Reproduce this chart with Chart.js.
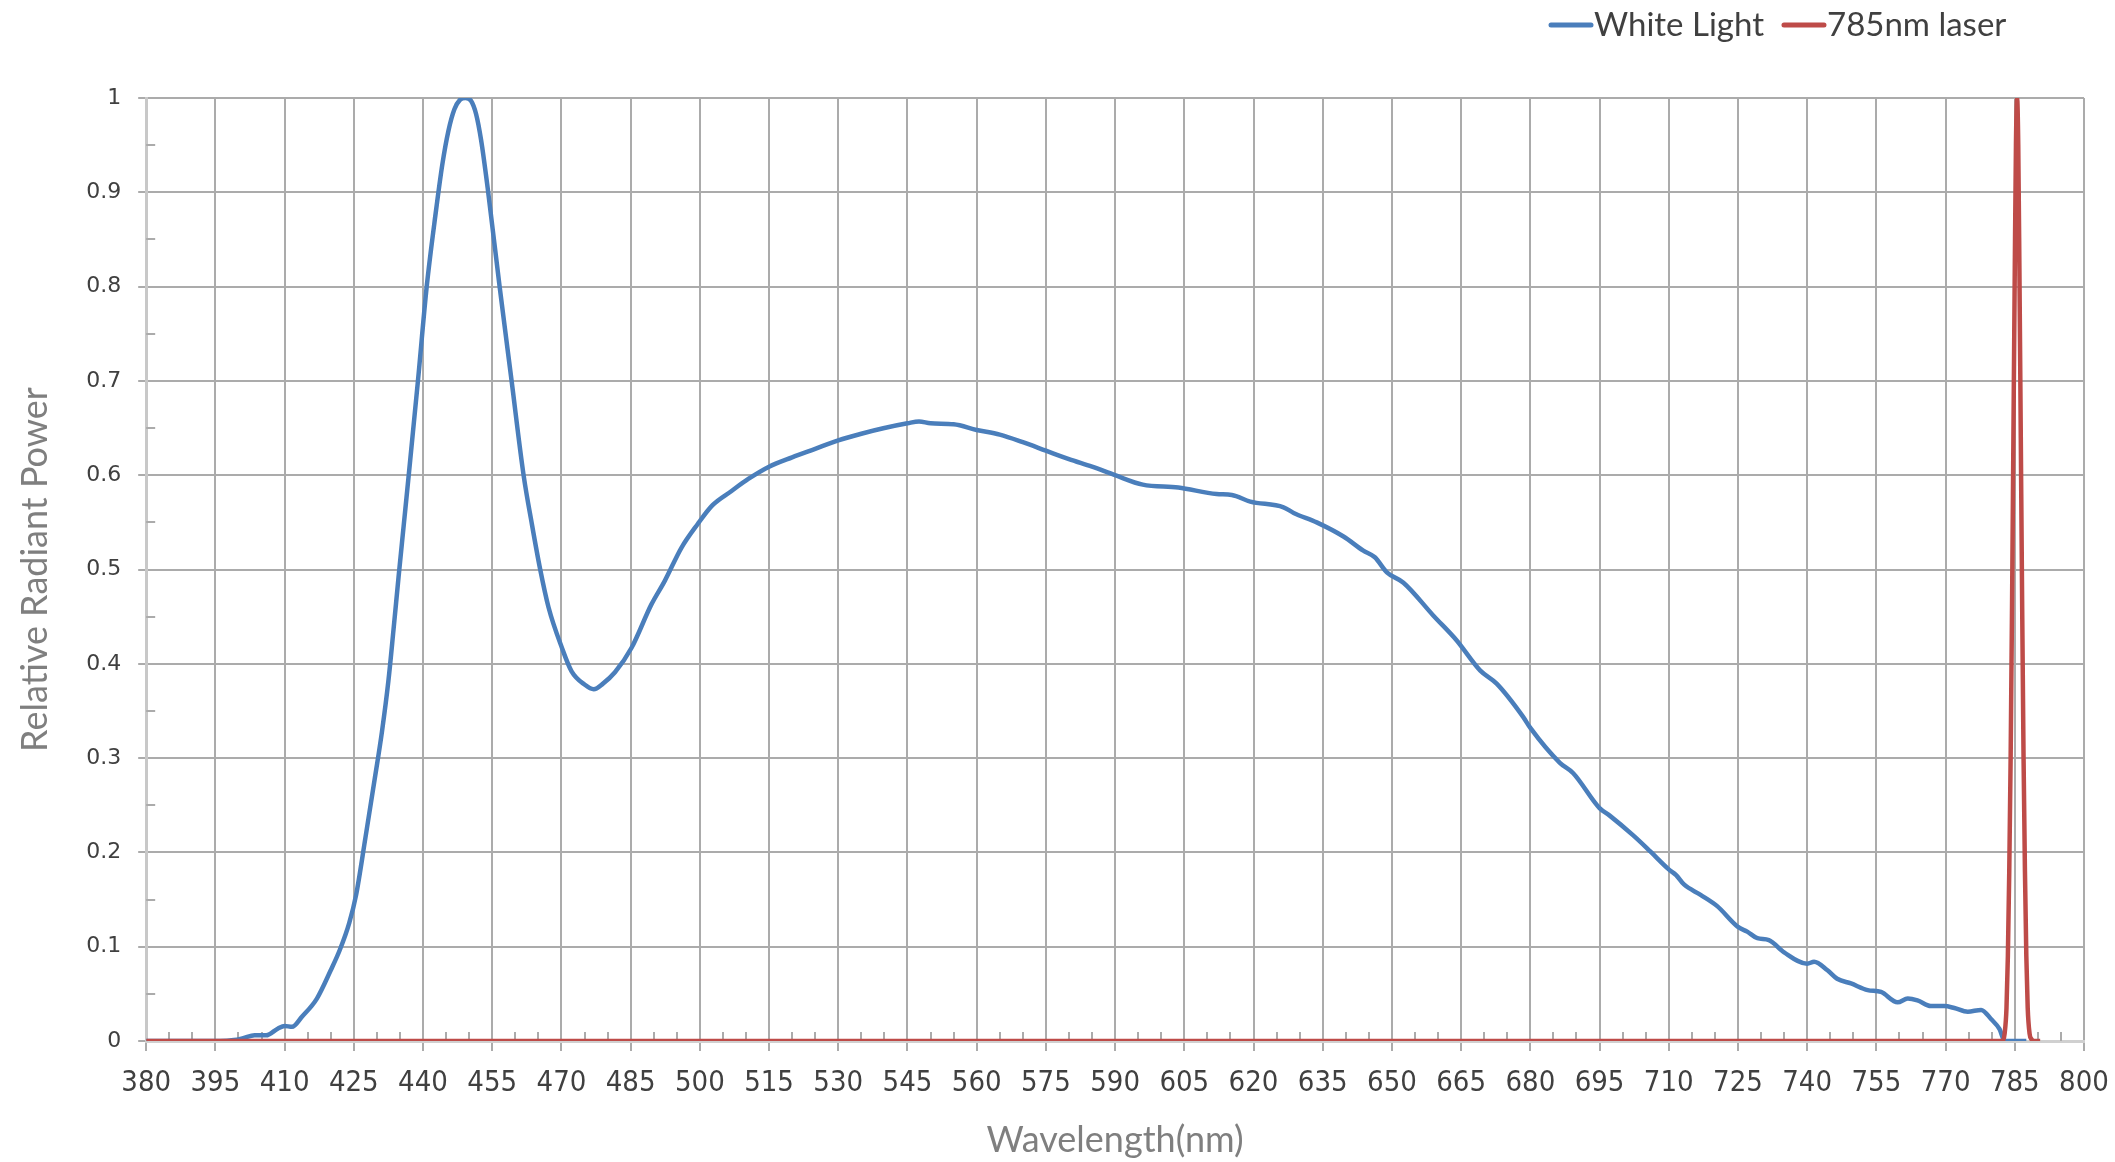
<!DOCTYPE html>
<html>
<head>
<meta charset="utf-8">
<title>White Light vs 785nm laser</title>
<script src="https://cdn.jsdelivr.net/npm/chart.js@4.4.0/dist/chart.umd.min.js"></script>
<style>
  html, body { margin: 0; padding: 0; background: #fff; }
  #wrap { width: 2115px; height: 1162px; }
</style>
</head>
<body>
<div id="wrap"><canvas id="chart" width="2115" height="1162"></canvas></div>
<script>
// wavelength (nm) / relative power
const whiteWl = [380, 396, 399, 401, 403.5, 406, 408.5, 410, 411.6, 413.8, 417, 420, 422, 424, 425.5,
  427.5, 429.6, 431.1, 432.5, 433.6, 434.7, 435.8, 436.9, 438.9, 440.8, 442.8, 444.2, 445.5, 446.8, 448,
  449.2, 450.4, 451.5, 452.6, 454, 456.6, 459.2, 461.8, 463.6, 465.4, 467.2, 470.1, 472.2, 475, 477,
  479, 481.6, 485.2, 489.5, 492.4, 496, 499.5, 502.7, 506.8, 510.5, 515, 520, 525, 530, 535, 540, 545, 547.5,
  550, 555, 560, 565, 570, 575, 580, 585, 590, 596, 603.7, 612, 615.3, 619.3, 626.5, 628.7, 633.7, 639.5,
  643.8, 646.3, 648.9, 652.5, 659, 664, 669.1, 672.7, 678.4, 680, 686.4, 689.3, 695, 697.2, 702.3, 706, 710,
  711.6, 713.3, 716.9, 720.5, 725, 727, 729.2, 731.7, 735, 740, 741.5, 744.4, 746.5, 749.5, 753.1, 756,
  759.6, 761.8, 763.9, 766.8, 769.7, 771.9, 774.8, 777.7, 779.9, 781.7, 782.8, 787.5];
const whitePower = [0, 0, 0.001, 0.003, 0.006, 0.006, 0.013, 0.016, 0.015, 0.026, 0.045, 0.075, 0.097, 0.125, 0.155,
  0.215, 0.28, 0.328, 0.382, 0.436, 0.492, 0.546, 0.60, 0.70, 0.80, 0.88, 0.93, 0.965, 0.988, 0.998,
  1.0, 0.997, 0.983, 0.955, 0.905, 0.80, 0.70, 0.60, 0.548, 0.50, 0.46, 0.417, 0.392, 0.378, 0.373,
  0.379, 0.391, 0.417, 0.463, 0.488, 0.523, 0.548, 0.568, 0.583, 0.596, 0.609, 0.619, 0.628, 0.637, 0.644,
  0.650, 0.655, 0.657, 0.655, 0.654, 0.648, 0.643, 0.635, 0.626, 0.617, 0.609, 0.600, 0.590, 0.587, 0.580,
  0.579, 0.572, 0.566, 0.560, 0.550, 0.535, 0.520, 0.513, 0.497, 0.486, 0.451, 0.425, 0.393, 0.379, 0.344,
  0.332, 0.295, 0.284, 0.247, 0.239, 0.218, 0.201, 0.182, 0.176, 0.166, 0.155, 0.143, 0.121, 0.116, 0.109,
  0.107, 0.094, 0.082, 0.084, 0.075, 0.066, 0.061, 0.054, 0.052, 0.041, 0.045, 0.043, 0.037, 0.037, 0.035,
  0.031, 0.033, 0.023, 0.0125, 0, 0];

const laserWl = [380, 782.4, 782.8, 783.2, 783.5, 783.8, 784.1, 784.4, 784.7, 785, 785.25, 785.5, 785.75,
  786, 786.3, 786.6, 786.9, 787.2, 787.5, 787.8, 788.2, 788.6, 789.2, 790.5];
const laserPower = [0, 0, 0.008, 0.035, 0.09, 0.18, 0.3, 0.46, 0.64, 0.82, 0.95, 1.0, 0.95, 0.82,
  0.64, 0.46, 0.3, 0.18, 0.09, 0.035, 0.008, 0.002, 0, 0];

const seriesNames = ['White Light', '785nm laser'];
const seriesColors = ['#4a7ebb', '#be4b48'];

const X_MIN = 380, X_MAX = 800, X_STEP = 15;
const Y_MIN = 0, Y_MAX = 1, Y_STEP = 0.1;

const GRID = '#ababab';
const LABEL_FONT = "Lato, 'Open Sans', sans-serif";

const toPoints = (xs, ys) => xs.map((x, i) => ({ x, y: ys[i] }));

// small inside ticks between the major ones (every 5 nm / 0.05)
const minorTicks = {
    id: 'minorTicks',
    beforeDatasetsDraw(chart) {
        const { ctx, chartArea, scales: { x, y } } = chart;
        ctx.save();
        ctx.strokeStyle = GRID;
        ctx.lineWidth = 2;
        ctx.beginPath();
        for (let v = X_MIN; v < X_MAX; v += X_STEP) {
            [v + 5, v + 10].forEach(m => {
                const px = Math.round(x.getPixelForValue(m));
                ctx.moveTo(px, chartArea.bottom);
                ctx.lineTo(px, chartArea.bottom - 9);
            });
        }
        for (let i = 0; i < 10; i++) {
            const py = Math.round(y.getPixelForValue(i * Y_STEP + 0.05));
            ctx.moveTo(chartArea.left, py);
            ctx.lineTo(chartArea.left + 9, py);
        }
        ctx.stroke();
        ctx.restore();
    }
};

// excel-like legend, top right
const topLegend = {
    id: 'topLegend',
    afterDraw(chart) {
        const { ctx } = chart;
        ctx.save();
        ctx.font = `33px ${LABEL_FONT}`;
        ctx.textBaseline = 'middle';
        let x = 1551;
        const y = 25;
        chart.data.datasets.forEach(ds => {
            ctx.strokeStyle = ds.borderColor;
            ctx.lineWidth = 5;
            ctx.lineCap = 'round';
            ctx.beginPath();
            ctx.moveTo(x, y);
            ctx.lineTo(x + 40, y);
            ctx.stroke();
            ctx.fillStyle = '#404040';
            ctx.fillText(ds.label, x + 43, y);
            x += 43 + ctx.measureText(ds.label).width + 20;
        });
        ctx.restore();
    }
};

const ctx = document.getElementById('chart').getContext('2d');
new Chart(ctx, {
    type: 'line',
    data: {
        datasets: [
            {
                label: seriesNames[0],
                data: toPoints(whiteWl, whitePower),
                borderColor: seriesColors[0],
                borderWidth: 4.5,
                pointRadius: 0,
                cubicInterpolationMode: 'monotone',
                order: 2
            },
            {
                label: seriesNames[1],
                data: toPoints(laserWl, laserPower),
                borderColor: seriesColors[1],
                borderWidth: 4.5,
                pointRadius: 0,
                cubicInterpolationMode: 'monotone',
                order: 1
            }
        ]
    },
    options: {
        responsive: false,
        animation: false,
        events: [],
        layout: { padding: { top: 98, right: 31, bottom: 0, left: 14 } },
        plugins: {
            legend: { display: false },
            tooltip: { enabled: false }
        },
        scales: {
            x: {
                type: 'linear',
                min: X_MIN,
                max: X_MAX,
                // the label padding otherwise pushes the plot's right edge in
                afterFit: s => { s.paddingRight = 0; },
                ticks: {
                    stepSize: X_STEP,
                    autoSkip: false,
                    maxRotation: 0,
                    padding: 15,
                    color: '#404040',
                    font: { family: "'Liberation Sans Narrow', 'DejaVu Sans Condensed', sans-serif", size: 29 }
                },
                grid: { color: GRID, lineWidth: 2, tickLength: 10, tickColor: GRID },
                border: { color: '#d0d0d0', width: 3 },
                title: {
                    display: true,
                    text: 'Wavelength(nm)',
                    color: '#7f7f7f',
                    font: { family: LABEL_FONT, size: 36 },
                    padding: { top: 3, bottom: 0 }
                }
            },
            y: {
                min: Y_MIN,
                max: Y_MAX,
                ticks: {
                    stepSize: Y_STEP,
                    padding: 17,
                    color: '#404040',
                    font: { family: "'DejaVu Sans', Verdana, sans-serif", size: 22 },
                    callback: v => String(Number(v.toFixed(1)))
                },
                grid: { color: GRID, lineWidth: 2, tickLength: 8, tickColor: GRID },
                border: { color: '#c8c8c8', width: 3 },
                title: {
                    display: true,
                    text: 'Relative Radiant Power',
                    color: '#7f7f7f',
                    font: { family: LABEL_FONT, size: 36 },
                    padding: { top: 0, bottom: 12 }
                }
            }
        }
    },
    plugins: [minorTicks, topLegend]
});
</script>
</body>
</html>
